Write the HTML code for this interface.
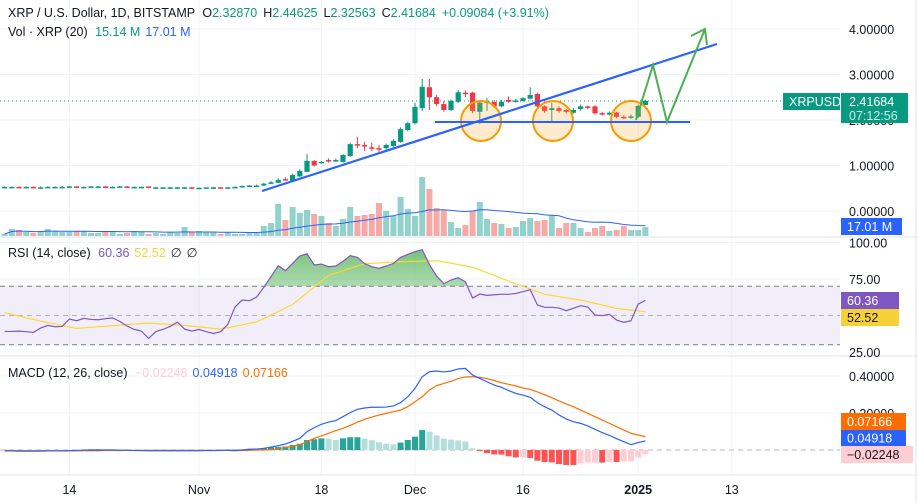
<!DOCTYPE html>
<html><head><meta charset="utf-8">
<style>
body{margin:0;background:#fff;font-family:"Liberation Sans",sans-serif;}
#wrap{position:relative;width:918px;height:503px;overflow:hidden;}
svg{position:absolute;left:0;top:0;}
.t{font-family:"Liberation Sans",sans-serif;font-size:12.5px;}
</style></head>
<body>
<div id="wrap">
<svg id="s" width="918" height="503"></svg>
</div>
<script>
// ---- data ----
const opens = [0.53,0.53,0.53,0.52,0.53,0.52,0.52,0.53,0.53,0.53,0.54,0.53,0.53,0.54,0.54,0.53,0.53,0.54,0.53,0.53,0.54,0.51,0.52,0.52,0.52,0.52,0.52,0.51,0.51,0.52,0.52,0.51,0.52,0.53,0.55,
0.55,0.56,0.60,0.62,0.70,0.67,0.76,0.86,1.10,1.06,1.12,1.10,1.08,1.21,1.47,1.45,1.40,1.38,1.38,1.43,1.52,1.78,1.93,2.26,2.72,2.50,2.35,2.22,2.40,2.60,2.60,2.18,2.38,2.40,2.30,2.44,2.41,2.42,2.47,2.57,2.30,2.22,2.26,2.22,2.16,2.24,2.30,2.30,2.15,2.12,2.16,2.07,2.05,2.07,2.3287];
const closes = [0.53,0.53,0.52,0.53,0.52,0.52,0.53,0.53,0.53,0.54,0.53,0.53,0.54,0.54,0.53,0.53,0.54,0.53,0.53,0.53,0.51,0.52,0.52,0.52,0.52,0.52,0.51,0.51,0.52,0.52,0.51,0.52,0.53,0.55,0.56,
0.56,0.60,0.63,0.68,0.68,0.79,0.88,1.10,1.00,1.08,1.10,1.12,1.23,1.47,1.45,1.42,1.38,1.36,1.45,1.54,1.80,1.93,2.29,2.73,2.50,2.35,2.22,2.42,2.61,2.58,2.20,2.38,2.41,2.30,2.40,2.40,2.43,2.48,2.55,2.30,2.20,2.26,2.20,2.18,2.22,2.30,2.27,2.15,2.13,2.16,2.07,2.05,2.08,2.31,2.41684];
const highs = [0.54,0.54,0.54,0.54,0.54,0.54,0.54,0.54,0.55,0.55,0.55,0.54,0.55,0.55,0.55,0.54,0.55,0.55,0.54,0.54,0.54,0.53,0.53,0.53,0.53,0.53,0.53,0.52,0.52,0.53,0.53,0.53,0.54,0.56,0.57,
0.58,0.62,0.66,0.72,0.74,0.82,0.92,1.25,1.12,1.10,1.16,1.15,1.25,1.50,1.63,1.52,1.50,1.45,1.48,1.58,1.84,1.96,2.38,2.90,2.90,2.55,2.42,2.45,2.66,2.65,2.62,2.40,2.48,2.44,2.44,2.52,2.46,2.50,2.72,2.60,2.32,2.38,2.30,2.24,2.26,2.34,2.32,2.32,2.18,2.19,2.18,2.10,2.12,2.34,2.44625];
const lows = [0.52,0.52,0.51,0.52,0.51,0.51,0.52,0.52,0.52,0.53,0.52,0.52,0.53,0.53,0.52,0.52,0.53,0.52,0.52,0.52,0.50,0.51,0.51,0.51,0.51,0.51,0.50,0.50,0.51,0.51,0.50,0.51,0.52,0.54,0.55,
0.54,0.55,0.59,0.61,0.67,0.66,0.75,0.85,0.98,1.04,1.06,1.08,1.06,1.19,1.38,1.32,1.32,1.28,1.35,1.41,1.50,1.75,1.90,2.20,2.22,2.30,2.18,2.20,2.37,2.50,2.15,1.91,2.20,2.26,2.28,2.38,2.38,2.40,2.45,2.28,2.16,1.98,2.16,2.14,2.14,2.20,2.24,2.12,2.10,2.10,2.04,2.02,2.03,2.05,2.32563];
const volumes = [2,7,6,4,3,5,7,5,4,4,5,5,3,3,5,4,2,3,5,4,2,3,2,4,3,9,4,5,4,4,2,4,2,2,3,
3,10,13,32,16,29,23,26,22,20,13,10,17,29,20,21,22,33,25,20,39,27,20,59,47,28,26,14,8,11,25,34,17,13,12,8,9,15,18,15,16,21,8,13,13,8,4,8,10,5,6,10,6,6,9];
const rsiValues = [39.1,39.1,39.3,38.9,38.4,41.4,43.2,42.3,42.5,47.6,46.4,48.0,47.3,47.1,47.8,48.3,46.0,42.8,40.5,39.3,34.3,38.9,40.5,42.5,45.5,40.7,39.3,40.5,38.9,37.7,38.9,43.9,55.8,60.6,60.1,62.6,69.3,76.6,84.1,80.7,85.7,90.7,92.3,84.6,85.2,83.4,83.9,87.1,91.0,89.8,85.5,83.4,82.3,83.9,85.7,89.8,91.9,93.7,95.1,85.0,77.0,71.8,74.3,75.9,73.1,62.0,64.7,63.8,64.2,64.5,64.5,65.1,66.3,67.7,57.2,55.6,55.6,55.1,53.3,54.9,56.7,55.8,50.3,49.9,50.8,46.9,45.3,46.4,57.8,60.36];
const rsiMaValues = [51.9,50.8,49.6,48.4,47.3,46.2,45.2,44.2,43.2,42.2,41.2,41.5,41.9,42.3,42.6,43.0,43.4,43.8,44.2,44.5,44.8,44.5,44.2,43.8,43.5,43.2,42.7,42.2,41.7,41.2,40.7,41.6,42.6,43.6,44.6,45.7,47.9,50.3,52.7,55.1,57.6,61.5,65.5,69.5,73.5,77.5,79.1,80.7,82.3,83.9,85.5,85.8,86.0,86.3,86.6,86.8,87.0,87.1,87.3,87.4,87.5,86.7,85.8,84.9,84.0,83.0,81.1,79.3,77.4,75.5,73.6,71.8,70.0,68.2,66.3,64.5,63.7,62.9,62.1,61.4,60.6,59.5,58.3,57.2,56.0,54.9,54.3,53.7,53.2,52.52];
const macdValues = [-0.005,-0.005,-0.006,-0.006,-0.006,-0.006,-0.005,-0.005,-0.005,-0.004,-0.003,-0.001,0.000,0.000,0.000,0.000,-0.001,-0.001,-0.003,-0.003,-0.004,-0.004,-0.004,-0.004,-0.004,-0.004,-0.004,-0.004,-0.003,-0.003,-0.002,-0.001,-0.002,0.000,0.004,0.005,0.009,0.016,0.023,0.032,0.047,0.063,0.099,0.121,0.139,0.151,0.159,0.180,0.202,0.220,0.227,0.231,0.231,0.232,0.238,0.256,0.288,0.333,0.396,0.423,0.427,0.422,0.427,0.438,0.441,0.405,0.387,0.369,0.351,0.339,0.321,0.306,0.297,0.285,0.256,0.234,0.216,0.189,0.168,0.153,0.144,0.130,0.112,0.094,0.079,0.061,0.045,0.029,0.040,0.04918];
const signalValues = [-0.002,-0.003,-0.003,-0.004,-0.004,-0.004,-0.004,-0.004,-0.004,-0.004,-0.004,-0.004,-0.004,-0.004,-0.003,-0.003,-0.003,-0.002,-0.002,-0.002,-0.002,-0.002,-0.002,-0.002,-0.002,-0.002,-0.002,-0.002,-0.002,-0.002,-0.002,-0.002,-0.004,-0.003,-0.002,0.000,0.000,0.002,0.007,0.013,0.020,0.029,0.045,0.063,0.076,0.090,0.105,0.117,0.133,0.151,0.166,0.178,0.189,0.198,0.207,0.216,0.234,0.261,0.288,0.324,0.348,0.360,0.371,0.386,0.395,0.396,0.393,0.386,0.375,0.364,0.355,0.346,0.335,0.328,0.314,0.299,0.283,0.265,0.249,0.234,0.216,0.198,0.180,0.162,0.144,0.126,0.108,0.090,0.081,0.07166];
const priceTicks = ["4.00000","3.00000","2.00000","1.00000","0.00000"];
const priceTickValues = [4,3,2,1,0];
const rsiTicks = ["100.00","75.00","25.00"];
const rsiTickValues = [100,75,25];
const macdTicks = ["0.40000","0.20000"];
const macdTickValues = [0.4,0.2];
const dateLabels = ["14","Nov","18","Dec","16","2025","13"];
const dateIdx = [9,27,44,57,72,88,101];

// ---- scales ----
const xI = i => 4.6 + 7.2*i;
const yP = p => 211 - 45.5*p;
const yV = v => 236 - v;
const yR = r => 242.5 + (100-r)*1.46;
const yM = m => 450 - 185*m;
const PLOT_R = 840;
const NS='http://www.w3.org/2000/svg';
const svg=document.getElementById('s');
function mk(tag,attrs,parent){const e=document.createElementNS(NS,tag);for(const k in attrs)e.setAttribute(k,attrs[k]);(parent||svg).appendChild(e);return e;}
function txt(x,y,s,fill,parent,extra){const e=mk('text',Object.assign({x:x,y:y,fill:fill,class:'t'},extra||{}),parent);e.textContent=s;return e;}

// grid
const grid=mk('g',{});


dateIdx.forEach(d=>{mk('line',{x1:xI(d),x2:xI(d),y1:0,y2:475,stroke:'#f0f3fa'},grid);});
priceTickValues.forEach(v=>mk('line',{x1:0,x2:PLOT_R,y1:yP(v),y2:yP(v),stroke:'#f0f3fa'},grid));
rsiTickValues.forEach(v=>mk('line',{x1:0,x2:PLOT_R,y1:yR(v),y2:yR(v),stroke:'#f0f3fa'},grid));
macdTickValues.forEach(v=>mk('line',{x1:0,x2:PLOT_R,y1:yM(v),y2:yM(v),stroke:'#f0f3fa'},grid));
mk('line',{x1:0,x2:918,y1:237,y2:237,stroke:'#e0e3eb'});
mk('line',{x1:0,x2:918,y1:356,y2:356,stroke:'#e0e3eb'});
mk('line',{x1:0,x2:918,y1:475,y2:475,stroke:'#e0e3eb'});
mk('line',{x1:916,x2:916,y1:0,y2:503,stroke:'#e0e3eb'});

// volume
const vg=mk('g',{});


volumes.forEach((v,i)=>{const up=closes[i]>=opens[i];const r=mk('rect',{x:xI(i)-3,y:yV(v),width:6,height:v,fill:up?'#92d2cc':'#f7a9a7'},vg);

});
let vpts=[];volumes.forEach((v,i)=>{const s=volumes.slice(Math.max(0,i-19),i+1);const m=s.reduce((a,b)=>a+b,0)/s.length;vpts.push(xI(i)+','+yV(m));});
const vma=mk('polyline',{points:vpts.join(' '),fill:'none',stroke:'#2962ff','stroke-width':1});



// candles
const cg=mk('g',{});


closes.forEach((c,i)=>{const o=opens[i];const up=c>=o;const col=up?'#089981':'#f23645';const x=xI(i);
const g=mk('g',{},cg);


mk('line',{x1:x,x2:x,y1:yP(highs[i]),y2:yP(lows[i]),stroke:col,'stroke-width':1},g);
const top=yP(Math.max(o,c)),h=Math.max(1.5,Math.abs(yP(o)-yP(c)));mk('rect',{x:x-2.6,y:top,width:5.2,height:h,fill:col},g);});

// price line
const pl=mk('line',{x1:0,x2:PLOT_R-57,y1:yP(closes[89]),y2:yP(closes[89]),stroke:'#089981','stroke-dasharray':'1 3'});



// drawings
const dg=mk('g',{});


[481,553,631].forEach(cx=>{const c=mk('circle',{cx:cx,cy:121,r:20,fill:'rgba(255,167,38,0.22)',stroke:'#f59b00','stroke-width':2},dg);

});
const tl=mk('line',{x1:262,y1:191,x2:717,y2:44,stroke:'#2962ff','stroke-width':2.2},dg);


const sl=mk('line',{x1:435,y1:122,x2:690,y2:122,stroke:'#2962ff','stroke-width':2},dg);


const zz=mk('polyline',{points:'636,120 653,65 667,122 705,29',fill:'none',stroke:'#4caf50','stroke-width':2},dg);


const ah=mk('polyline',{points:'691,36 705,29 707,45',fill:'none',stroke:'#4caf50','stroke-width':2},dg);



// RSI
const rg=mk('g',{});


mk('rect',{x:0,y:yR(70),width:PLOT_R,height:yR(30)-yR(70),fill:'rgba(126,87,194,0.1)'},rg);
[70,50,30].forEach(v=>mk('line',{x1:0,x2:PLOT_R,y1:yR(v),y2:yR(v),stroke:v==50?'#b2b5be':'#787b86','stroke-dasharray':'5 4'},rg));
const defs=mk('defs',{});const lg=mk('linearGradient',{id:'gg',x1:0,y1:0,x2:0,y2:1},defs);
mk('stop',{offset:'0','stop-color':'#4caf50','stop-opacity':0.75},lg);mk('stop',{offset:'1','stop-color':'#4caf50','stop-opacity':0.03},lg);
const cp=mk('clipPath',{id:'above'},defs);mk('rect',{x:0,y:0,width:918,height:yR(70)},cp);
let rp=rsiValues.map((r,i)=>xI(i)+','+yR(r));
const fill=mk('polygon',{points:xI(0)+','+yR(70)+' '+rp.join(' ')+' '+xI(89)+','+yR(70),fill:'url(#gg)','clip-path':'url(#above)'},rg);


const rma=mk('polyline',{points:rsiMaValues.map((r,i)=>xI(i)+','+yR(r)).join(' '),fill:'none',stroke:'#fdd835','stroke-width':1.2},rg);


const rl=mk('polyline',{points:rp.join(' '),fill:'none',stroke:'#7e57c2','stroke-width':1.2},rg);



// MACD
const mg=mk('g',{});


mk('line',{x1:0,x2:PLOT_R,y1:yM(0),y2:yM(0),stroke:'#b2b5be','stroke-dasharray':'5 4'},mg);
macdValues.forEach((m,i)=>{const h=m-signalValues[i];const ph=i>0?macdValues[i-1]-signalValues[i-1]:h;let col;
if(h>=0)col=h>=ph?'#26a69a':'#b2dfdb';else col=h<ph?'#ff5252':'#ffcdd2';
const y1=Math.min(yM(h),yM(0)),hh=Math.max(0.8,Math.abs(yM(h)-yM(0)));
const b=mk('rect',{x:xI(i)-3,y:y1,width:6,height:hh,fill:col},mg);

});
const sgl=mk('polyline',{points:signalValues.map((m,i)=>xI(i)+','+yM(m)).join(' '),fill:'none',stroke:'#ff6d00','stroke-width':1.2},mg);


const ml=mk('polyline',{points:macdValues.map((m,i)=>xI(i)+','+yM(m)).join(' '),fill:'none',stroke:'#2962ff','stroke-width':1.2},mg);



// axes labels
const ax=mk('g',{});


priceTickValues.forEach((v,i)=>txt(849,yP(v)+5,priceTicks[i],'#131722',ax));
rsiTickValues.forEach((v,i)=>txt(849,yR(v)+5,rsiTicks[i],'#131722',ax));
macdTickValues.forEach((v,i)=>txt(849,yM(v)+5,macdTicks[i],'#131722',ax));
const tx=mk('g',{});


dateLabels.forEach((s,i)=>txt(xI(dateIdx[i]),494,s,'#131722',tx,{'text-anchor':'middle','font-weight':s=='2025'?'bold':'normal'}));

// value badges
function badge(x,y,w,h,bg,s,fg,name){const g=mk('g',{});
mk('rect',{x:x,y:y,width:w,height:h,fill:bg},g);txt(x+6,y+h/2+4.5,s,fg,g);return g;}
badge(783,93,57,17,'#089981','XRPUSD','#fff','symbol-badge');
const pb=badge(841,93,67,30,'#089981','','#fff','last-price-badge');
txt(849,106,'2.41684','#fff',pb);txt(849,120,'07:12:56','#cdebe6',pb);
badge(841,218,61,17,'#2962ff','17.01 M','#fff','volume-badge');
badge(841,292,58,17,'#7e57c2','60.36','#fff','rsi-badge');
badge(841,309,58,17,'#f7d038','52.52','#131722','rsi-ma-badge');
badge(841,413,65,17,'#ff6d00','0.07166','#fff','signal-badge');
badge(841,430,65,16,'#2962ff','0.04918','#fff','macd-badge');
badge(841,446,72,17,'#ffcdd2','\u22120.02248','#131722','histogram-badge');

// legends
const h1=mk('text',{x:8,y:17,class:'t',fill:'#131722'});


h1.innerHTML='XRP / U.S. Dollar, 1D, BITSTAMP  <tspan dx="4">O</tspan><tspan fill="#089981">2.32870</tspan><tspan dx="6">H</tspan><tspan fill="#089981">2.44625</tspan><tspan dx="6">L</tspan><tspan fill="#089981">2.32563</tspan><tspan dx="6">C</tspan><tspan fill="#089981">2.41684</tspan><tspan dx="6" fill="#089981">+0.09084 (+3.91%)</tspan>';
const h2=mk('text',{x:8,y:36,class:'t',fill:'#131722'});


h2.innerHTML='Vol · XRP (20) <tspan dx="4" fill="#089981">15.14 M</tspan><tspan dx="5" fill="#2962ff">17.01 M</tspan>';
const h3=mk('text',{x:8,y:257,class:'t',fill:'#131722'});


h3.innerHTML='RSI (14, close) <tspan dx="4" fill="#7e57c2">60.36</tspan><tspan dx="5" fill="#f7d038">52.52</tspan><tspan dx="5">∅</tspan><tspan dx="5">∅</tspan>';
const h4=mk('text',{x:8,y:377,class:'t',fill:'#131722'});


h4.innerHTML='MACD (12, 26, close) <tspan dx="4" fill="#ffcdd2">−0.02248</tspan><tspan dx="5" fill="#2962ff">0.04918</tspan><tspan dx="5" fill="#ff6d00">0.07166</tspan>';
</script>
</body></html>
